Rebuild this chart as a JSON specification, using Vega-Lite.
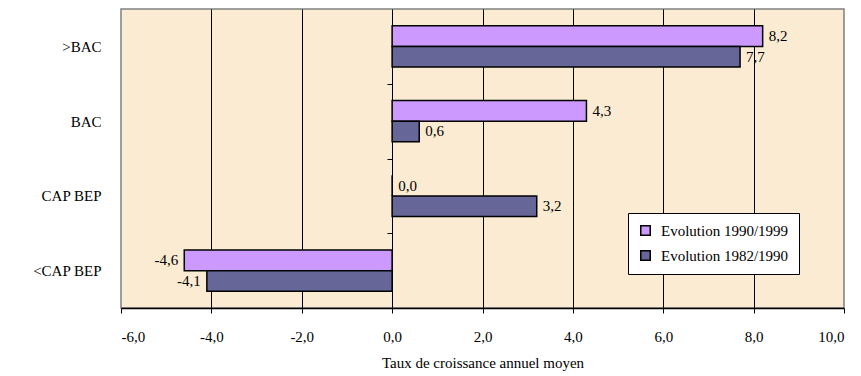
{
  "$schema": "https://vega.github.io/schema/vega-lite/v6.json",
  "autosize": "none",
  "width": 723,
  "height": 299,
  "padding": {"left": 121, "top": 9, "right": 17, "bottom": 68},
  "background": "white",
  "config": {
    "locale": {"number": {"decimal": ",", "thousands": " ", "grouping": [3], "currency": ["", " €"], "minus": "-"}},
    "view": {"fill": "#FAEBD2", "stroke": "#808080", "strokeWidth": 1.5},
    "font": "Liberation Serif"
  },
  "data": {
    "values": [
      {"cat": ">BAC", "serie": "Evolution 1990/1999", "v": 8.2},
      {"cat": ">BAC", "serie": "Evolution 1982/1990", "v": 7.7},
      {"cat": "BAC", "serie": "Evolution 1990/1999", "v": 4.3},
      {"cat": "BAC", "serie": "Evolution 1982/1990", "v": 0.6},
      {"cat": "CAP BEP", "serie": "Evolution 1990/1999", "v": 0.0},
      {"cat": "CAP BEP", "serie": "Evolution 1982/1990", "v": 3.2},
      {"cat": "<CAP BEP", "serie": "Evolution 1990/1999", "v": -4.6},
      {"cat": "<CAP BEP", "serie": "Evolution 1982/1990", "v": -4.1}
    ]
  },
  "encoding": {
    "y": {
      "field": "cat",
      "type": "nominal",
      "sort": [">BAC", "BAC", "CAP BEP", "<CAP BEP"],
      "scale": {"paddingInner": 0.45, "paddingOuter": 0.225},
      "axis": {
        "title": null,
        "offset": -271,
        "domainColor": "black",
        "domainWidth": 1,
        "tickColor": "black",
        "tickSize": 5,
        "tickOffset": 37.4,
        "labelOffset": -37.4,
        "labelPadding": 286,
        "labelAlign": "right",
        "labelFontSize": 15,
        "labelColor": "black",
        "grid": false
      }
    },
    "yOffset": {
      "field": "serie",
      "type": "nominal",
      "sort": ["Evolution 1990/1999", "Evolution 1982/1990"],
      "scale": {"paddingInner": 0, "paddingOuter": 0}
    },
    "x": {
      "field": "v",
      "type": "quantitative",
      "scale": {"domain": [-6, 10], "nice": false, "zero": false},
      "axis": {
        "title": "Taux de croissance annuel moyen",
        "titleFontSize": 15,
        "titleFontWeight": "normal",
        "titleColor": "black",
        "titlePadding": 11,
        "values": [-6, -4, -2, 0, 2, 4, 6, 8, 10],
        "format": ".1f",
        "labelFontSize": 15,
        "labelColor": "black",
        "labelPadding": 16,
        "tickSize": 5,
        "tickColor": "black",
        "domainColor": "black",
        "domainWidth": 1.5,
        "grid": true,
        "gridColor": {"condition": {"test": "datum.value == -6 || datum.value == 10 || datum.value == 0", "value": "transparent"}, "value": "black"},
        "gridOpacity": 1,
        "gridWidth": 1
      }
    }
  },
  "layer": [
    {
      "mark": {"type": "bar", "stroke": "black", "strokeWidth": 1.5},
      "encoding": {
        "color": {
          "field": "serie",
          "type": "nominal",
          "sort": ["Evolution 1990/1999", "Evolution 1982/1990"],
          "scale": {"domain": ["Evolution 1990/1999", "Evolution 1982/1990"], "range": ["#CC99FF", "#666699"]},
          "legend": {
            "orient": "none",
            "legendX": 507,
            "legendY": 204,
            "title": null,
            "fillColor": "white",
            "strokeColor": "black",
            "padding": 10,
            "symbolType": "square",
            "symbolSize": 90,
            "symbolStrokeColor": "black",
            "symbolStrokeWidth": 1.5,
            "labelFontSize": 15,
            "labelColor": "black",
            "labelOffset": 8,
            "rowPadding": 8
          }
        }
      }
    },
    {
      "transform": [{"filter": "datum.v >= 0"}],
      "mark": {"type": "text", "align": "left", "baseline": "middle", "dx": 6, "fontSize": 15, "color": "black"},
      "encoding": {"text": {"field": "v", "type": "quantitative", "format": ".1f"}}
    },
    {
      "transform": [{"filter": "datum.v < 0"}],
      "mark": {"type": "text", "align": "right", "baseline": "middle", "dx": -6, "fontSize": 15, "color": "black"},
      "encoding": {"text": {"field": "v", "type": "quantitative", "format": ".1f"}}
    }
  ]
}
